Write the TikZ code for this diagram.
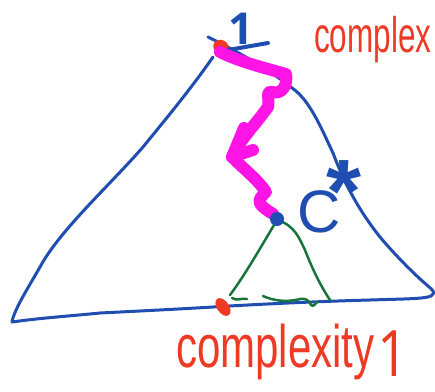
\documentclass[tikz,border=0pt]{standalone}
\usepackage{fontspec}
\setmainfont{Liberation Sans}
\newfontfamily\onefont{Open Sans}
\definecolor{penblue}{HTML}{1F4DB0}
\definecolor{penred}{HTML}{EE3A24}
\definecolor{pengreen}{HTML}{17753A}
\definecolor{penmagenta}{HTML}{FF14E6}
\tikzset{
  bluepen/.style={draw=penblue,line width=3pt,line cap=round,line join=round},
  thickblue/.style={draw=penblue,line width=4pt,line cap=round,line join=round},
  greenpen/.style={draw=pengreen,line width=2.5pt,line cap=round,line join=round},
  magpen/.style={draw=penmagenta,line width=12pt,line cap=round,line join=round},
  redtext/.style={text=penred,inner sep=0pt,anchor=base west},
  bluetext/.style={text=penblue,inner sep=0pt,anchor=base west},
}
\begin{document}
\begin{tikzpicture}[x=1pt,y=-1pt]
\useasboundingbox (0,0) rectangle (435,391);
\clip (0,0) rectangle (435,391);
% big blue triangle
\draw[bluepen] (213,57) .. controls (190,90) and (165,120) .. (143,147)
  .. controls (110,185) and (60,230) .. (40,267)
  .. controls (28,288) and (14,310) .. (12,322)
  .. controls (40,318) and (70,316) .. (100,313)
  .. controls (140,311) and (180,309) .. (213,307)
  .. controls (260,304) and (330,301) .. (370,300)
  .. controls (400,299) and (425,299) .. (431,296)
  .. controls (436,293) and (433,290) .. (428,286)
  .. controls (415,275) and (395,255) .. (380,237)
  .. controls (360,212) and (345,185) .. (333,153)
  .. controls (322,130) and (310,100) .. (292,88)
  .. controls (270,70) and (235,50) .. (208,37);
% apex dot
\fill[penred,rotate around={-30:(221,47)}] (221,47) ellipse (8pt and 7pt);
% label 1
\node[bluetext,font=\onefont\fontsize{44}{44}\bfseries] (onelabel) at (228,44) {1};
\draw[thickblue] (228,50) -- (268,43);
% green triangle
\draw[greenpen] (230,295) .. controls (245,275) and (262,245) .. (277,220)
  .. controls (295,225) and (300,240) .. (305,250)
  .. controls (312,268) and (320,285) .. (330,300);
\draw[greenpen] (232,298) .. controls (236,301) and (242,298) .. (247,299);
\draw[greenpen] (263,296) .. controls (272,300) and (285,303) .. (300,299)
  .. controls (305,298) and (309,300) .. (311,305)
  .. controls (313,307) and (316,304) .. (317,302);
% bottom red dot
\fill[penred,rotate around={-55:(223,307)}] (223,307) ellipse (10pt and 6pt);
% magenta path
\draw[magpen] (220,52) .. controls (240,62) and (265,68) .. (286,74)
  .. controls (288,85) and (282,95) .. (272,92)
  .. controls (265,90) and (270,100) .. (268,107)
  .. controls (255,125) and (240,140) .. (232,157)
  .. controls (245,170) and (258,180) .. (266,192)
  .. controls (262,196) and (256,200) .. (262,206)
  .. controls (266,210) and (270,212) .. (273,214);
\draw[magpen] (232,157) -- (244,128);
\draw[magpen] (232,157) -- (253,150);
% blue node dot
\fill[penblue] (277,219) circle (7pt);
% C*
\node[bluetext,font=\fontsize{60}{60}\selectfont] (clabel) at (297,232)
  {C\kern-14pt\raisebox{10pt}{\fontsize{90}{90}\bfseries *}};
% texts
\node[redtext,font=\fontsize{50}{50}\selectfont,xscale=0.63] (toplabel) at (314,52) {complex};
\node[redtext,font=\fontsize{60}{60}\selectfont,xscale=0.70] (botlabel) at (176,367) {complexity};
\node[redtext,text depth=0pt,font=\onefont\fontsize{64}{64}\selectfont,xscale=0.85] (botone) at (377,376) {1};
\end{tikzpicture}
\end{document}
